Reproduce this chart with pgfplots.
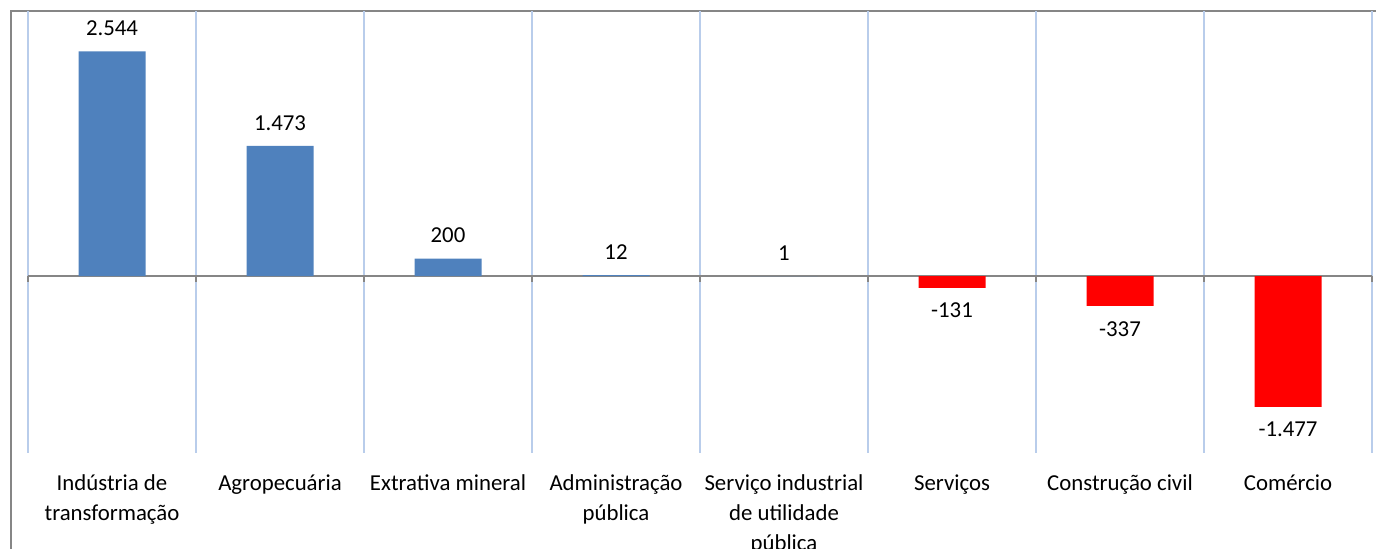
\documentclass[border=0pt]{standalone}
\usepackage{pgfplots}
\pgfplotsset{compat=1.18}
\usepackage{fontspec}
\setmainfont{Carlito}

\definecolor{barblue}{HTML}{4F81BD}
\definecolor{barred}{HTML}{FF0000}
\definecolor{gridblue}{HTML}{B9CDEB}
\definecolor{axisgray}{HTML}{868686}

\begin{document}
\fontsize{11.4}{15}\selectfont
\begin{tikzpicture}
\useasboundingbox (-14pt,-48pt) rectangle (674pt,226.5pt);
% frame of the chart area (only left and top edges are visible)
\draw[axisgray, line width=0.8pt] (-8.5pt,-48pt) -- (-8.5pt,221pt) -- (674pt,221pt);
\begin{axis}[
    scale only axis,
    width=672pt, height=221pt,
    xmin=0.5, xmax=8.5,
    ymin=-2000, ymax=3000,
    axis line style={draw=none},
    ytick=\empty,
    xtick={1,...,8},
    xticklabels={
        {Indústria de\\transformação},
        {Agropecuária},
        {Extrativa mineral},
        {Administração\\pública},
        {Serviço industrial\\de utilidade\\pública},
        {Serviços},
        {Construção civil},
        {Comércio}},
    xticklabel style={align=center, anchor=north, yshift=-2.5pt, font=\fontsize{11.4}{15}\selectfont},
    major x tick style={draw=none},
    minor xtick={0.5,1.5,...,8.5},
    minor x tick style={draw=none},
    xminorgrids,
    minor grid style={gridblue, line width=0.6pt},
    extra y ticks={0},
    extra y tick labels={},
    extra y tick style={ymajorgrids, major grid style={axisgray, line width=0.8pt}, major tick length=0pt},
    ybar,
    bar width=33.5pt,
    bar shift=0pt,
    nodes near coords,
    point meta=explicit symbolic,
    nodes near coords style={font=\fontsize{11.4}{15}\selectfont, inner sep=7.5pt},
    clip=false,
]
\addplot[fill=barblue, draw=none, nodes near coords style={anchor=south}] coordinates {
    (1,2544) [2.544]
    (2,1473) [1.473]
    (3,200)  [200]
    (4,12)   [12]
    (5,1)    [1]
};
\addplot[fill=barred, draw=none, nodes near coords style={anchor=north}] coordinates {
    (6,-131)  [-131]
    (7,-337)  [-337]
    (8,-1477) [-1.477]
};
% small tick marks below the zero line at the category boundaries
\pgfplotsinvokeforeach{0.5,1.5,2.5,3.5,4.5,5.5,6.5,7.5,8.5}{
    \draw[axisgray, line width=0.8pt] (axis cs:#1,0) -- ++(0pt,-3pt);
}
\end{axis}
\end{tikzpicture}
\end{document}
